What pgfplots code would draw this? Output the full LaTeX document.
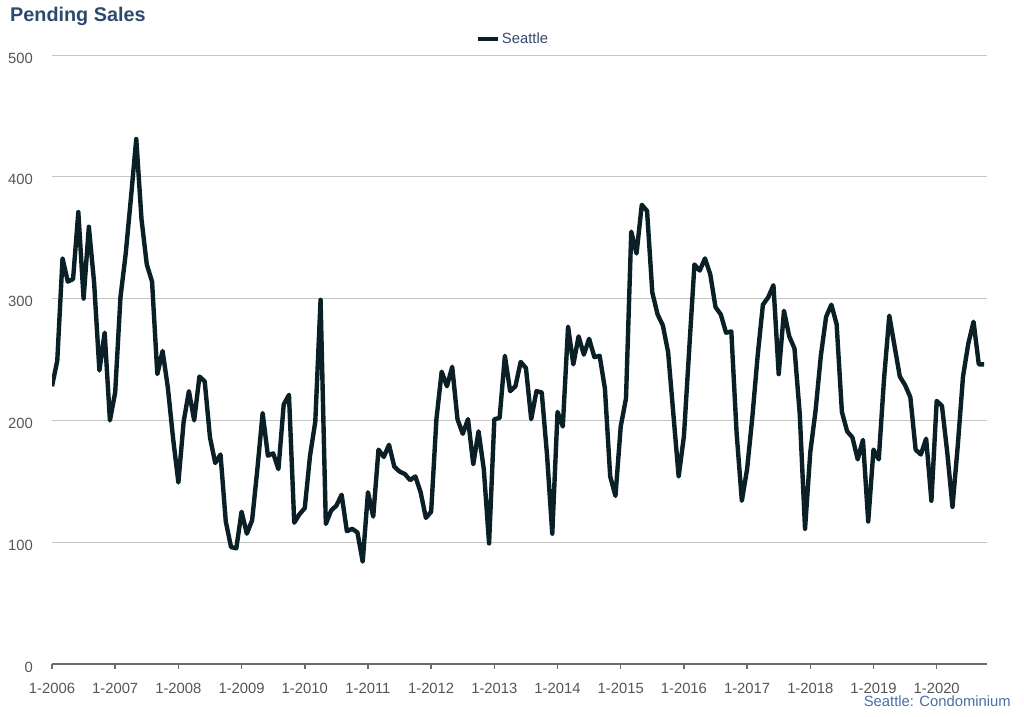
\documentclass[border=0pt]{standalone}
\usepackage{pgfplots}
\usepackage{pgfplotstable}
\pgfplotsset{compat=1.18}
\usepackage{fontspec}
\setmainfont{Liberation Sans}
\definecolor{linecol}{HTML}{0B1F26}
\definecolor{titlecol}{HTML}{2D4A6E}
\definecolor{legcol}{HTML}{34496A}
\definecolor{footcol}{HTML}{4A6FA5}
\definecolor{tickcol}{HTML}{555555}
\definecolor{gridcol}{HTML}{C4C4C4}
\definecolor{axiscol}{HTML}{6B6B6B}
% Monthly pending sales, Jan 2006 .. Oct 2020
\pgfplotstableread{
v
228
249
333
314
316
371
300
359
313
241
272
200
223
301
337
383
431
365
328
314
238
257
227
185
149
199
224
200
236
232
186
165
172
117
96
95
125
107
118
160
206
171
173
160
213
221
116
123
128
171
199
299
115
126
130
139
109
111
108
84
141
121
176
170
180
162
158
156
151
154
141
120
125
201
240
228
244
201
189
201
164
191
160
99
201
202
253
224
228
248
243
201
224
223
172
107
207
195
277
246
269
254
267
252
253
226
154
138
195
218
355
337
377
372
305
287
278
256
205
154
187
258
328
323
333
320
293
287
272
273
190
134
160
203
253
295
301
311
238
290
269
259
205
111
174
208
253
285
295
279
207
191
186
168
184
117
176
168
234
286
261
236
229
219
176
172
185
134
216
212
174
129
179
236
263
281
246
246
}\seattle
\begin{document}
\begin{tikzpicture}[x=1pt,y=1pt]
\useasboundingbox (0,0) rectangle (1024,716);
\begin{axis}[
  at={(52pt,52pt)}, anchor=south west,
  scale only axis, width=934.7pt, height=609pt,
  xmin=0, xmax=177.5, ymin=0, ymax=500,
  axis lines*=left,
  y axis line style={draw=none},
  x axis line style={draw=axiscol, line width=2.5pt},
  xtick={0,12,...,168},
  xticklabels={1-2006,1-2007,1-2008,1-2009,1-2010,1-2011,1-2012,1-2013,1-2014,1-2015,1-2016,1-2017,1-2018,1-2019,1-2020},
  ytick={0,100,...,500},
  tick align=outside,
  major tick length=5pt,
  xtick style={draw=axiscol, line width=1.5pt},
  ytick style={draw=none},
  ymajorgrids,
  grid style={draw=gridcol, line width=0.9pt},
  tick label style={font=\fontsize{14.8}{17}\selectfont, text=tickcol},
  xticklabel style={anchor=base, inner sep=0pt, yshift=-24pt},
  yticklabel style={anchor=east, inner sep=0pt, xshift=-14pt, yshift=-3pt},
  /pgf/number format/assume math mode=true,
  legend style={draw=none, fill=none, at={(0.493,1.026)}, anchor=center,
    font=\fontsize{14.8}{17}\selectfont, text=legcol, inner sep=0pt},
  legend image code/.code={\draw[#1, line width=4.4pt] (0pt,0pt) -- (20pt,0pt);},
]
\addplot[color=linecol, line width=4.4pt, line join=round, mark=none] table[x expr=\coordindex, y=v] {\seattle};
\addlegendentry{Seattle}
\end{axis}
\node[anchor=base west, inner sep=0pt, font=\bfseries\fontsize{19.8}{22}\selectfont, text=titlecol] at (10,694) {Pending Sales};
\node[anchor=base east, inner sep=0pt, font=\fontsize{14.8}{17}\selectfont, text=footcol] at (1011,10) {Seattle: Condominium};
\end{tikzpicture}
\end{document}
